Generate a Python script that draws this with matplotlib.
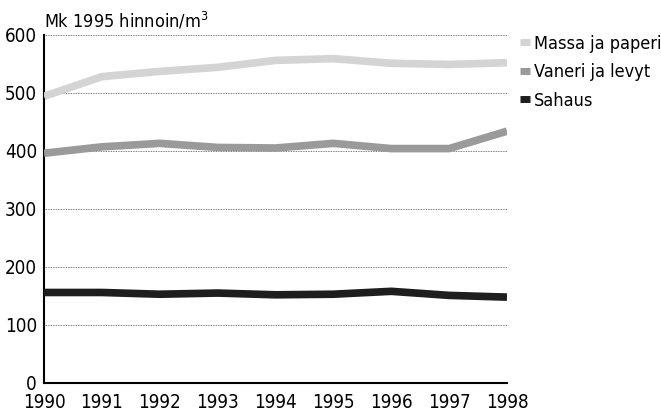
import matplotlib
matplotlib.use("Agg")
import matplotlib.pyplot as plt
from matplotlib.lines import Line2D

## Data
years = [1990, 1991, 1992, 1993, 1994, 1995, 1996, 1997, 1998]
massa = [494, 528, 537, 544, 556, 559, 551, 549, 552]
vaneri = [396, 407, 413, 406, 405, 413, 404, 404, 434]
sahaus = [156, 156, 153, 155, 152, 153, 158, 151, 148]
series_labels = ["Massa ja paperi", "Vaneri ja levyt", "Sahaus"]
y_ticks = [0, 100, 200, 300, 400, 500, 600]

# Condensed face, closest to the narrow print font of the original.
plt.rcParams["font.family"] = ["DejaVu Sans", "Liberation Sans"]
plt.rcParams["font.stretch"] = "condensed"

fig = plt.figure(figsize=(6.61, 4.12), dpi=100)
ax = fig.add_axes([0.0666, 0.0704, 0.7004, 0.845])

colors = ["#d4d4d4", "#9a9a9a", "#1e1e1e"]
for vals, col, lab in zip([massa, vaneri, sahaus], colors, series_labels):
  ax.plot(years, vals, color=col, linewidth=5.5, solid_capstyle="butt", label=lab, zorder=3)

# Dotted grid lines at every 100.
for y in y_ticks[1:]:
  ax.axhline(y, color="#555555", linewidth=0.6, linestyle=(0, (1, 1)), zorder=1)

ax.set_xlim(1990, 1998)
ax.set_ylim(0, 600)
ax.set_xticks(years)
ax.set_yticks(y_ticks)
ax.tick_params(axis="both", length=0, labelsize=13.5)
ax.tick_params(axis="x", pad=7)
ax.tick_params(axis="y", pad=5)
for spine in ["top", "right"]:
  ax.spines[spine].set_visible(False)
ax.spines["left"].set_linewidth(1.5)
ax.spines["bottom"].set_linewidth(1.5)

fig.text(0.0666, 0.948, "Mk 1995 hinnoin/m$^3$", fontsize=13, ha="left", va="center")

# Legend at right side.
handles = [Line2D([], [], color=c, linewidth=5, solid_capstyle="butt") for c in colors]
fig.legend(handles, series_labels, loc="upper left", bbox_to_anchor=(0.787, 0.916),
           frameon=False, fontsize=13, handlelength=0.55, handletextpad=0.2,
           labelspacing=0.58, borderpad=0, borderaxespad=0)

fig.savefig("out.png", dpi=100)
